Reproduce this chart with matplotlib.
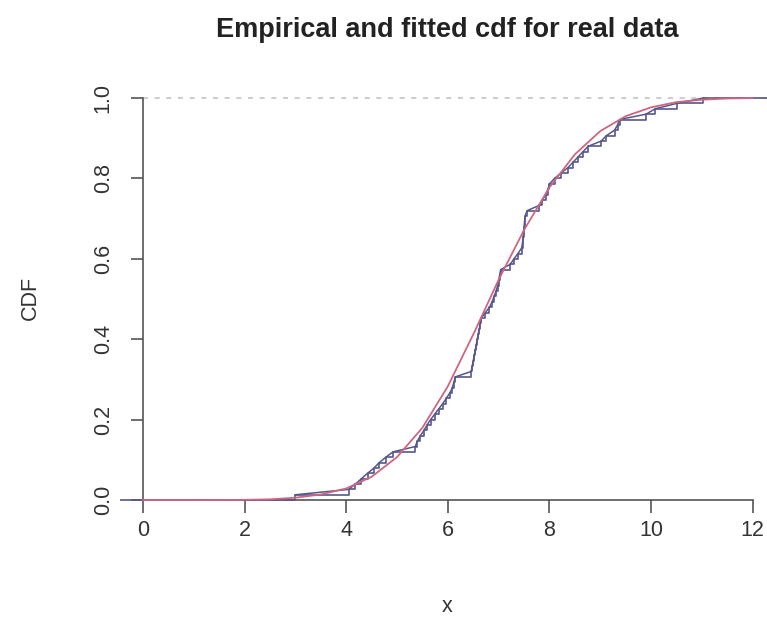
import numpy as np
import matplotlib.pyplot as plt

plt.rcParams['font.family'] = ['Liberation Sans', 'DejaVu Sans']

obs = [3.00, 4.05, 4.18, 4.30, 4.42, 4.55, 4.65, 4.78, 4.92, 5.36,
       5.40, 5.46, 5.53, 5.59, 5.66, 5.74, 5.82, 5.90, 5.97, 6.04,
       6.09, 6.12, 6.15, 6.46, 6.48, 6.50, 6.52, 6.54, 6.56, 6.58,
       6.60, 6.62, 6.64, 6.66, 6.74, 6.82, 6.87, 6.91, 6.95, 6.98,
       7.00, 7.02, 7.04, 7.23, 7.30, 7.38, 7.45, 7.47, 7.48, 7.49,
       7.50, 7.51, 7.52, 7.56, 7.80, 7.86, 7.93, 7.97, 8.00, 8.10,
       8.22, 8.36, 8.46, 8.56, 8.66, 8.76, 9.02, 9.12, 9.28, 9.34,
       9.38, 9.90, 10.08, 10.50, 11.02]

# fitted cdf read at regular x positions
fit_x = [0, 1, 2, 2.5, 3, 3.5, 4, 4.5, 5, 5.5, 6, 6.5, 7, 7.5, 8, 8.5,
         9, 9.5, 10, 10.5, 11, 11.5, 12]
fit_y = [0, 0, 0.0007, 0.002, 0.006, 0.014, 0.029, 0.058, 0.107, 0.180,
         0.283, 0.412, 0.548, 0.672, 0.778, 0.860, 0.918, 0.955, 0.977,
         0.99, 0.996, 0.999, 1.0]

x_ticks = [0, 2, 4, 6, 8, 10, 12]
y_ticks = [0.0, 0.2, 0.4, 0.6, 0.8, 1.0]

xs = np.array(obs)
ys = np.arange(1, len(xs) + 1) / len(xs)

fig = plt.figure(figsize=(7.67, 6.26), dpi=100)
ax = fig.add_axes([120 / 767, 111 / 626, 647 / 767, 435 / 626])
ax.set_xlim(-0.45, 12.28)
ax.set_ylim(-0.037, 1.045)

ecdf_col = '#56568c'
fit_col = '#cf6680'

ax.hlines(1.0, 0, 12.28, colors='#c4c4c4', linestyles=(0, (3, 4)), lw=1.2, zorder=1)

# step curve + straight segments between the points
step_x = np.concatenate([[-0.45], xs, [12.28]])
step_y = np.concatenate([[0], ys, [1]])
ax.step(step_x, step_y, where='post', color=ecdf_col, lw=1.2, zorder=3)
ax.plot(xs, ys, color=ecdf_col, lw=1.1, zorder=3)
ax.plot(fit_x, fit_y, color=fit_col, lw=1.3, zorder=4)

for s in ['top', 'right']:
    ax.spines[s].set_visible(False)
ax.spines['left'].set_position(('data', 0))
ax.spines['bottom'].set_position(('data', 0))
ax.spines['left'].set_bounds(0, 1)
ax.spines['bottom'].set_bounds(0, 12)
for s in ['left', 'bottom']:
    ax.spines[s].set_color('#555555')
    ax.spines[s].set_linewidth(1.2)

ax.set_xticks(x_ticks)
ax.set_xticklabels([str(t) for t in x_ticks])
ax.set_yticks(y_ticks)
ax.set_yticklabels(['%.1f' % t for t in y_ticks], rotation=90, va='center')
ax.tick_params(axis='both', length=9, width=1.2, color='#555555',
               labelsize=15.5, labelcolor='#333333')
ax.tick_params(axis='x', pad=5)
ax.tick_params(axis='y', pad=12)

fig.text(447 / 767, 1 - 30 / 626, 'Empirical and fitted cdf for real data',
         ha='center', va='center', fontsize=19.5, fontweight='bold', color='#222222')
fig.text(447 / 767, 1 - 607 / 626, 'x', ha='center', va='center',
         fontsize=15.5, color='#333333')
fig.text(30 / 767, 1 - 298 / 626, 'CDF', ha='center', va='center',
         rotation=90, fontsize=15.5, color='#333333')

fig.savefig('out.png', dpi=100)
